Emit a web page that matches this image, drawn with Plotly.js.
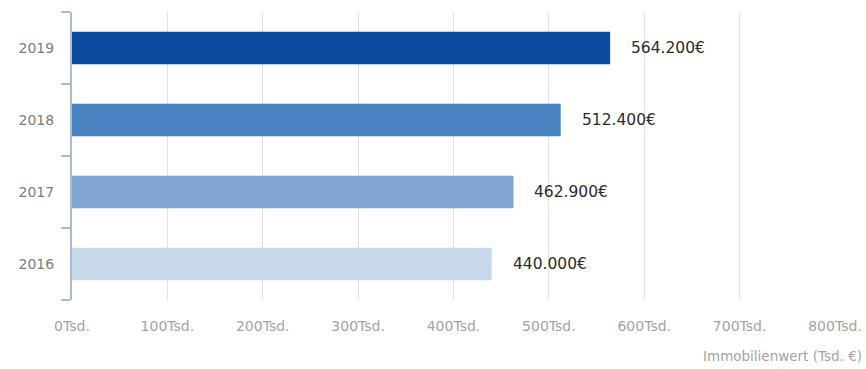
<!DOCTYPE html>
<html>
<head>
<meta charset="utf-8">
<script src="https://cdn.plot.ly/plotly-3.0.1.min.js"></script>
<style>html,body{margin:0;padding:0;background:#fff;}#chart{width:866px;height:369px;}</style>
</head>
<body>
<div id="chart"></div>
<script>
var years = ['2016', '2017', '2018', '2019'];
var values = [440.0, 462.9, 512.4, 564.2];
var valueLabels = ['440.000€', '462.900€', '512.400€', '564.200€'];
var barColors = ['#c9d9ec', '#7fa5d3', '#4a84c2', '#0b4a9e'];
var tickVals = [0, 100, 200, 300, 400, 500, 600, 700, 800];
var tickText = ['0Tsd.', '100Tsd.', '200Tsd.', '300Tsd.', '400Tsd.', '500Tsd.', '600Tsd.', '700Tsd.', '800Tsd.'];

var FONT = '"DejaVu Sans", sans-serif';

var trace = {
  type: 'bar',
  orientation: 'h',
  y: years,
  x: values,
  marker: {color: barColors, line: {width: 0}},
  hoverinfo: 'none'
};

var annotations = years.map(function (y, i) {
  return {
    x: values[i], y: i, xref: 'x', yref: 'y',
    text: valueLabels[i], showarrow: false,
    xanchor: 'left', xshift: 19, yshift: 0,
    font: {family: FONT, size: 15.5, color: '#2b2b2b'}
  };
});
annotations.push({
  xref: 'paper', yref: 'paper', x: 1.038, y: -0.195,
  xanchor: 'right', yanchor: 'middle', showarrow: false,
  text: 'Immobilienwert (Tsd. €)',
  font: {family: FONT, size: 13.5, color: '#a3a3a3'}
});

var layout = {
  width: 866, height: 369,
  margin: {l: 72, r: 31, t: 12, b: 69},
  paper_bgcolor: '#ffffff', plot_bgcolor: '#ffffff',
  showlegend: false,
  bargap: 0.55,
  xaxis: {
    range: [0, 800],
    tickvals: tickVals, ticktext: tickText,
    showgrid: true, gridcolor: '#e2e2e2', gridwidth: 1.2,
    zeroline: false, showline: false, ticks: '',
    ticklabelstandoff: 16,
    tickfont: {family: FONT, size: 14, color: '#a3a3a3'},
    fixedrange: true
  },
  yaxis: {
    type: 'category',
    categoryorder: 'array', categoryarray: years,
    range: [-0.5, 3.5], autorange: false,
    showline: true, linecolor: '#a9bcd6', linewidth: 2,
    ticks: 'outside', tickson: 'boundaries', ticklen: 9, tickcolor: '#a9bcd6', tickwidth: 1.5,
    showgrid: false, zeroline: false,
    ticklabelstandoff: 13,
    tickfont: {family: FONT, size: 14, color: '#7c7c7c'},
    fixedrange: true
  },
  annotations: annotations
};

Plotly.newPlot('chart', [trace], layout, {displayModeBar: false, staticPlot: true});
</script>
</body>
</html>
